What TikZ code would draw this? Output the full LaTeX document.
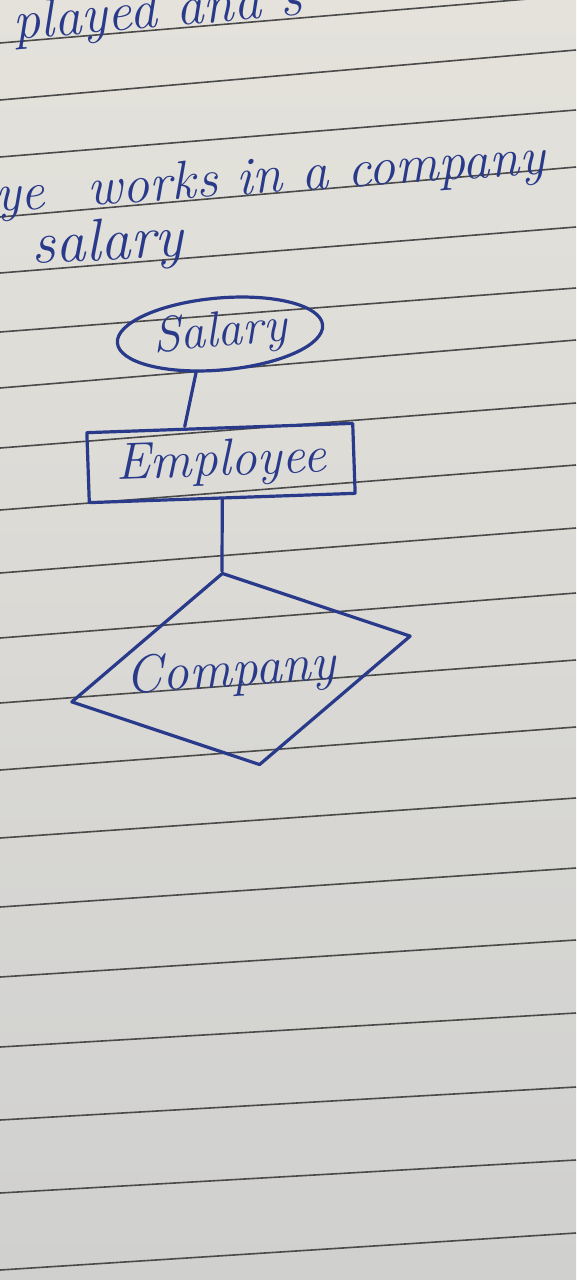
\documentclass[tikz,border=0pt]{standalone}
\usepackage{fontspec}
\usetikzlibrary{shapes.geometric,calc}
\definecolor{ink}{HTML}{2A3A8A}
\definecolor{paperA}{HTML}{E4E2DB}
\definecolor{paperB}{HTML}{D0D0CF}
\definecolor{ruleink}{HTML}{4A4A4A}
\tikzset{
  ruleline/.style={draw=ruleink, line width=1.6pt},
  inkline/.style={draw=ink, line width=3.2pt, line cap=round, line join=round},
  hand/.style={text=ink, font=\itshape\fontsize{#1}{#1}\selectfont, inner sep=0pt},
  hand/.default=52,
  attrbox/.style={ellipse, inkline, minimum width=206pt, minimum height=72pt, inner sep=0pt},
  entitybox/.style={rectangle, inkline, minimum width=266pt, minimum height=70pt, inner sep=0pt},
  relbox/.style={diamond, inkline, minimum width=346pt, minimum height=196pt, inner sep=0pt}
}
\begin{document}
\begin{tikzpicture}[x=1pt,y=-1pt]
\useasboundingbox (0,0) rectangle (576,1280);
\clip (0,0) rectangle (576,1280);
\shade[top color=paperA, bottom color=paperB] (0,0) rectangle (576,1280);
% ruled lines of the notebook
\foreach \l/\r in {43/-5,100/50,157/110,217/167,273/227,332/288,388/340,448/403,510/465,573/528,638/593,703/660,770/727,838/798,907/868,977/940,1047/1013,1120/1087,1193/1160,1270/1233}
  \draw[ruleline] (0,\l) -- (576,\r);
% handwritten text lines
\node[hand=55, anchor=base west, rotate=5] (t1) at (14,40) {played and s};
\node[hand=54, anchor=base west, rotate=4] (t2) at (-4,212) {ye\hspace{24pt} works in a company};
\node[hand=60, anchor=base west, rotate=3] (t3) at (32,264) {salary};
% diagram
\node[attrbox, rotate=5, hand=50] (salary) at (220,334) {Salary};
\node[entitybox, rotate=2, hand=52] (employee) at (221,463) {Employee};
\node[relbox, rotate=11] (company) at (241,669) {};
\node[hand=53, rotate=4] (companytext) at ($(company.center)+(-10,4)$) {Company};
\draw[inkline] ($(salary.south)+(-27,0)$) -- ($(employee.north)+(-35,0)$);
\draw[inkline] (employee.south) -- (company.north);
\end{tikzpicture}
\end{document}
